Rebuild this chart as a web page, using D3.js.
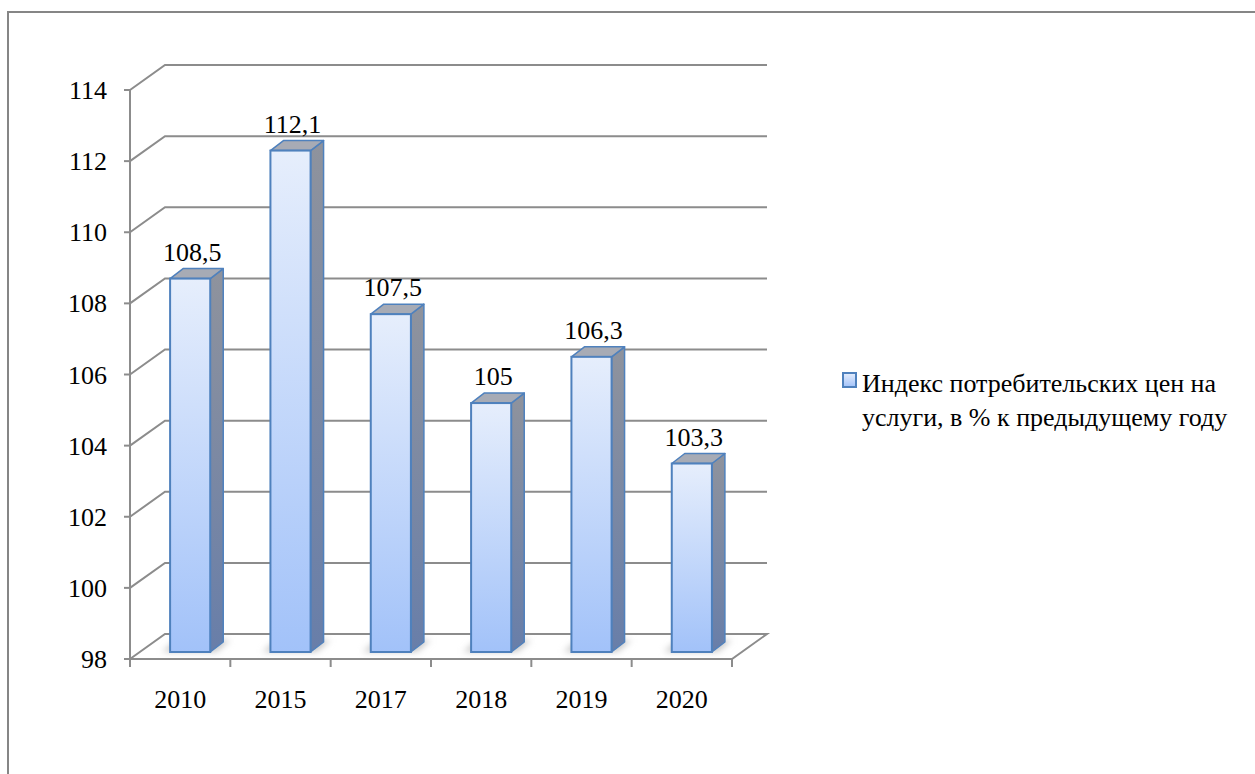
<!DOCTYPE html>
<html>
<head>
<meta charset="utf-8">
<script src="https://cdn.jsdelivr.net/npm/d3@7"></script>
<style>
  html, body { margin: 0; padding: 0; background: #fff; }
  svg { display: block; }
</style>
</head>
<body>
<script>
'use strict';

// chart data
const years = ['2010', '2015', '2017', '2018', '2019', '2020'];
const values = [108.5, 112.1, 107.5, 105, 106.3, 103.3];
const valueLabels = ['108,5', '112,1', '107,5', '105', '106,3', '103,3'];
const yTicks = [98, 100, 102, 104, 106, 108, 110, 112, 114];
const seriesName = ['Индекс потребительских цен на', 'услуги, в % к предыдущему году'];

const W = 1255, H = 774;
const gridColor = '#8c8c8c';
const depth = [35, -25];      // back wall offset
const barShift = [10, -7];    // bar front offset from the front plane
const barDepth = [13, -10];

// serif text like the reference
const txt = sel => sel
  .style('font-family', 'Liberation Serif')
  .style('font-size', '26px')
  .style('fill', '#000');

const svg = d3.select('body').append('svg')
  .attr('width', W)
  .attr('height', H);

const defs = svg.append('defs');

const gFront = defs.append('linearGradient')
  .attr('id', 'gFront').attr('x1', 0).attr('y1', 0).attr('x2', 0).attr('y2', 1);
gFront.append('stop').attr('offset', '0%').attr('stop-color', '#e6eefc');
gFront.append('stop').attr('offset', '100%').attr('stop-color', '#a2c2f9');

const gSide = defs.append('linearGradient')
  .attr('id', 'gSide').attr('x1', 0).attr('y1', 0).attr('x2', 0).attr('y2', 1);
gSide.append('stop').attr('offset', '0%').attr('stop-color', '#8f939d');
gSide.append('stop').attr('offset', '100%').attr('stop-color', '#687ea9');

defs.append('filter').attr('id', 'blur')
  .attr('x', '-50%').attr('y', '-50%').attr('width', '200%').attr('height', '200%')
  .append('feGaussianBlur').attr('stdDeviation', 3);

// outer frame (only left and top are visible in the picture)
svg.append('rect')
  .attr('x', 8).attr('y', 12)
  .attr('width', 1300).attr('height', 900)
  .attr('fill', 'none')
  .attr('stroke', '#868686')
  .attr('stroke-width', 2);

const x = d3.scaleBand()
  .domain(years)
  .range([130, 732])
  .paddingInner(0.6)
  .paddingOuter(0.3);

const y = d3.scaleLinear()
  .domain([98, 114])
  .range([659, 90]);

const x0 = 130, x1 = 732;

// back wall gridlines + left wall diagonals
const grid = svg.append('g')
  .attr('stroke', gridColor)
  .attr('stroke-width', 2)
  .attr('fill', 'none');

grid.selectAll('.gl')
  .data(yTicks.slice(1))
  .enter()
  .append('path')
  .attr('d', d => {
    const yy = y(d);
    return `M${x0},${yy}L${x0 + depth[0]},${yy + depth[1]}L${x1 + depth[0]},${yy + depth[1]}`;
  });

// floor
const yb = y(98);
grid.append('path')
  .attr('d', `M${x0},${yb}L${x0 + depth[0]},${yb + depth[1]}L${x1 + depth[0]},${yb + depth[1]}L${x1},${yb}Z`);

// y axis line and ticks
grid.append('path').attr('d', `M${x0},${y(114)}V${yb}`);
grid.selectAll('.yt')
  .data(yTicks)
  .enter()
  .append('path')
  .attr('d', d => `M${x0 - 6},${y(d)}H${x0}`);

// x ticks
const step = (x1 - x0) / years.length;
grid.selectAll('.xt')
  .data(d3.range(years.length + 1))
  .enter()
  .append('path')
  .attr('d', i => `M${x0 + i * step},${yb}V${yb + 8}`);

// y labels
svg.append('g')
  .selectAll('text')
  .data(yTicks)
  .enter()
  .append('text')
  .attr('x', 107)
  .attr('y', d => y(d))
  .attr('dy', '0.35em')
  .attr('text-anchor', 'end')
  .call(txt)
  .text(d => d);

// x labels
svg.append('g')
  .selectAll('text')
  .data(years)
  .enter()
  .append('text')
  .attr('x', d => x0 + (years.indexOf(d) + 0.5) * step)
  .attr('y', 708)
  .attr('text-anchor', 'middle')
  .call(txt)
  .text(d => d);

// bars
const bars = svg.append('g')
  .selectAll('g')
  .data(values)
  .enter()
  .append('g');

const fx = (d, i) => x(years[i]) + barShift[0];
const bw = x.bandwidth();
const fb = yb + barShift[1];
const ft = d => y(d) + barShift[1];

// shadow on the floor
bars.append('path')
  .attr('d', (d, i) => {
    const l = fx(d, i) - 8, r = fx(d, i) + bw + 6;
    return `M${l},${fb}L${l + 14},${fb - 12}L${r + 14},${fb - 12}L${r},${fb}Z`;
  })
  .attr('fill', '#c8c8c8')
  .attr('filter', 'url(#blur)');

bars.append('path')
  .attr('d', (d, i) => {
    const r = fx(d, i) + bw;
    return `M${r},${ft(d)}L${r + barDepth[0]},${ft(d) + barDepth[1]}L${r + barDepth[0]},${fb + barDepth[1]}L${r},${fb}Z`;
  })
  .attr('fill', 'url(#gSide)')
  .attr('stroke', '#4f81bd')
  .attr('stroke-width', 1.5)
  .attr('stroke-linejoin', 'round');

bars.append('path')
  .attr('d', (d, i) => {
    const l = fx(d, i), r = l + bw, t = ft(d);
    return `M${l},${t}L${l + barDepth[0]},${t + barDepth[1]}L${r + barDepth[0]},${t + barDepth[1]}L${r},${t}Z`;
  })
  .attr('fill', '#a7abb5')
  .attr('stroke', '#4f81bd')
  .attr('stroke-width', 1.5)
  .attr('stroke-linejoin', 'round');

bars.append('rect')
  .attr('x', fx)
  .attr('y', d => ft(d))
  .attr('width', bw)
  .attr('height', d => fb - ft(d))
  .attr('fill', 'url(#gFront)')
  .attr('stroke', '#4f81bd')
  .attr('stroke-width', 2);

// value labels
bars.append('text')
  .attr('x', (d, i) => fx(d, i) + bw / 2 + 2)
  .attr('y', d => ft(d) - 18)
  .attr('text-anchor', 'middle')
  .call(txt)
  .text((d, i) => valueLabels[i]);

// legend
const lg = svg.append('g');
lg.append('rect')
  .attr('x', 843).attr('y', 373)
  .attr('width', 13).attr('height', 14)
  .attr('fill', 'url(#gFront)')
  .attr('stroke', '#4f81bd')
  .attr('stroke-width', 2);
lg.selectAll('text')
  .data(seriesName)
  .enter()
  .append('text')
  .attr('x', 862)
  .attr('y', (d, i) => 392 + i * 34)
  .call(txt)
  .text(d => d);
</script>
</body>
</html>
